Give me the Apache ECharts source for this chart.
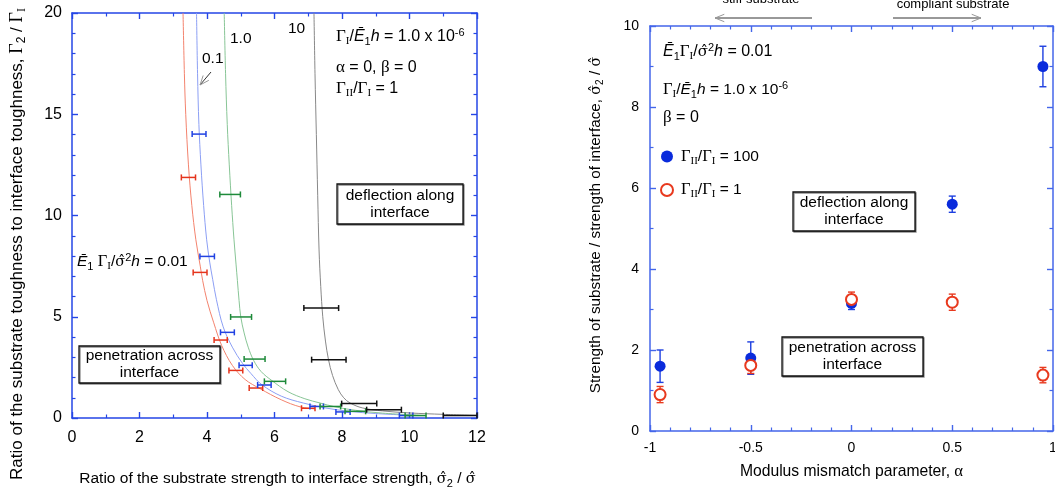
<!DOCTYPE html>
<html><head><meta charset="utf-8">
<script src="https://cdn.jsdelivr.net/npm/echarts@6/dist/echarts.min.js"></script>
<style>html,body{margin:0;padding:0;background:#fff}#c{width:1055px;height:495px}</style>
</head><body><div id="c"></div>
<script>
// ---------- LEFT PANEL DATA (x = sigma2/sigma, y = Gamma2/GammaI) ----------
const redCurve   = [[3.29,20],[3.33,17],[3.37,15],[3.45,12.5],[3.55,10.5],[3.67,8.8],[3.8,7.5],[3.87,6.8],[4.0,5.8],[4.2,4.7],[4.43,3.6],[4.75,2.6],[5.13,1.9],[5.57,1.45],[6.2,0.9],[6.76,0.55],[7.2,0.45]];
const blueCurve  = [[3.69,20],[3.72,17],[3.76,14.5],[3.82,12.5],[3.9,10.5],[3.99,8.8],[4.08,7.7],[4.17,6.83],[4.28,5.84],[4.48,4.5],[4.75,3.5],[5.05,2.7],[5.3,2.2],[5.62,1.65],[6.2,1.08],[6.85,0.74],[7.5,0.5],[8.2,0.33],[9.0,0.22],[10.1,0.13]];
const greenCurve = [[4.51,20],[4.55,17],[4.6,14.5],[4.66,12.5],[4.73,10.5],[4.8,8.8],[4.86,7.6],[4.9,6.8],[4.95,5.8],[5.0,5.0],[5.1,4.2],[5.22,3.5],[5.38,2.85],[5.6,2.3],[5.92,1.85],[6.4,1.3],[6.9,0.95],[7.35,0.74],[7.8,0.55],[8.4,0.38],[9.2,0.24],[10.5,0.12]];
const blackCurve = [[7.17,20],[7.2,17],[7.24,14],[7.28,11],[7.32,8.3],[7.37,6.5],[7.43,5.0],[7.51,3.8],[7.6,2.88],[7.72,2.1],[7.89,1.4],[8.05,1.0],[8.24,0.74],[8.6,0.5],[9.2,0.35],[10,0.25],[11,0.18],[12,0.13]];
// horizontal error bars: [xLow, xHigh, y]
const redBars   = [[3.24,3.66,11.88],[3.59,4.0,7.19],[4.21,4.6,3.85],[4.65,5.06,2.35],[5.25,5.65,1.48],[6.8,7.2,0.48]];
const blueBars  = [[3.56,3.97,14.02],[3.79,4.22,7.98],[4.4,4.81,4.23],[4.95,5.34,2.6],[5.5,5.9,1.63],[7.05,7.45,0.57],[7.82,8.24,0.3],[9.7,10.1,0.12]];
const greenBars = [[4.38,4.99,11.04],[4.7,5.32,4.99],[5.1,5.72,2.91],[5.7,6.33,1.81],[7.35,7.96,0.57],[8.09,8.7,0.33],[9.87,10.49,0.12]];
const blackBars = [[6.87,7.9,5.43],[7.1,8.12,2.88],[7.99,9.03,0.71],[8.73,9.76,0.41],[11.0,12.0,0.12]];

// ---------- RIGHT PANEL DATA (x = alpha, y = sigma2/sigma) ----------
const alphaVals = [-0.95, -0.5, 0, 0.5, 0.95];
const g100Vals  = [1.6, 1.8, 3.15, 5.6, 9.0];
const g100Err   = [0.4, 0.4, 0.15, 0.2, 0.5];
const g1Vals    = [0.9, 1.62, 3.25, 3.18, 1.38];
const g1Err     = [0.2, 0.2, 0.18, 0.2, 0.19];

const FONT = 'Liberation Sans, Arial, Helvetica, sans-serif';
const SERIF = 'Liberation Serif, Times New Roman, serif';
const HATF = 'DejaVu Serif, serif';
const BL = '#2446e6', BR = '#4466ea';

function rich(fs) {
  const s = Math.round(fs * 0.68), off = Math.round(fs * 0.55);
  return {
    g:    {fontFamily: SERIF, fontSize: fs + 1, fill: '#000', color: '#000'},
    h:    {fontFamily: HATF, fontSize: fs - 1, fill: '#000', color: '#000'},
    i:    {fontFamily: FONT, fontStyle: 'italic', fontSize: fs, fill: '#000', color: '#000'},
    sub:  {fontFamily: SERIF, fontSize: s, fill: '#000', color: '#000', padding: [off, 0, 0, 0]},
    subn: {fontFamily: FONT, fontSize: s, fill: '#000', color: '#000', padding: [off, 0, 0, 0]},
    sup:  {fontFamily: FONT, fontSize: s, fill: '#000', color: '#000', padding: [0, 0, off, 0]}
  };
}
function txt(x, y, text, fs, align, extra) {
  return Object.assign({
    type: 'text', x: x, y: y, z: 100,
    style: {text: text, rich: rich(fs), fontFamily: FONT, fontSize: fs, fill: '#000',
      align: align || 'left', textAlign: align || 'left', verticalAlign: 'middle', textVerticalAlign: 'middle', lineHeight: Math.round(fs * 1.1)}
  }, extra || {});
}
function box(x, y, w, h) {
  return {type: 'rect', z: 90, shape: {x: x, y: y, width: w, height: h},
    style: {fill: '#fff', stroke: '#111', lineWidth: 1.3, shadowColor: 'rgba(0,0,0,0.45)', shadowOffsetX: 1, shadowOffsetY: 1, shadowBlur: 0}};
}
function arrow(x1, y1, x2, y2) {
  const a = Math.atan2(y2 - y1, x2 - x1), L = 10, w = 0.38;
  return [
    {type: 'line', z: 95, shape: {x1: x1, y1: y1, x2: x2, y2: y2}, style: {stroke: '#333', lineWidth: 1}},
    {type: 'polyline', z: 95, shape: {points: [[x2 - L * Math.cos(a - w), y2 - L * Math.sin(a - w)], [x2, y2], [x2 - L * Math.cos(a + w), y2 - L * Math.sin(a + w)]]}, style: {stroke: '#999', lineWidth: 1, fill: null}}
  ];
}

function hBars(data, color) {
  return {
    type: 'custom', xAxisIndex: 0, yAxisIndex: 0, data: data, z: 5, silent: true,
    encode: {x: [0, 1], y: 2},
    renderItem: function (params, api) {
      const p1 = api.coord([api.value(0), api.value(2)]);
      const p2 = api.coord([api.value(1), api.value(2)]);
      const c = 3, st = {stroke: color, lineWidth: 1.5};
      return {type: 'group', children: [
        {type: 'line', shape: {x1: p1[0], y1: p1[1], x2: p2[0], y2: p2[1]}, style: st},
        {type: 'line', shape: {x1: p1[0], y1: p1[1] - c, x2: p1[0], y2: p1[1] + c}, style: st},
        {type: 'line', shape: {x1: p2[0], y1: p2[1] - c, x2: p2[0], y2: p2[1] + c}, style: st}
      ]};
    }
  };
}
function vBars(xs, ys, es, color) {
  return {
    type: 'custom', xAxisIndex: 2, yAxisIndex: 2, z: 5, silent: true,
    data: xs.map((x, k) => [x, ys[k] - es[k], ys[k] + es[k]]),
    encode: {x: 0, y: [1, 2]},
    renderItem: function (params, api) {
      const p1 = api.coord([api.value(0), api.value(1)]);
      const p2 = api.coord([api.value(0), api.value(2)]);
      const c = 3.5, st = {stroke: color, lineWidth: 1.4};
      return {type: 'group', children: [
        {type: 'line', shape: {x1: p1[0], y1: p1[1], x2: p2[0], y2: p2[1]}, style: st},
        {type: 'line', shape: {x1: p1[0] - c, y1: p1[1], x2: p1[0] + c, y2: p1[1]}, style: st},
        {type: 'line', shape: {x1: p2[0] - c, y1: p2[1], x2: p2[0] + c, y2: p2[1]}, style: st}
      ]};
    }
  };
}
function curve(data, color) {
  return {type: 'line', xAxisIndex: 0, yAxisIndex: 0, data: data, showSymbol: false, smooth: 0.35, silent: true,
    lineStyle: {color: color, width: 1}, z: 2};
}
function axis(o) {
  const color = o.color;
  return Object.assign({
    type: 'value', splitLine: {show: false}, minorSplitLine: {show: false},
    axisLine: {show: true, onZero: false, lineStyle: {color: color, width: 1.5}},
    axisTick: {show: true, inside: true, length: 6, lineStyle: {color: color, width: 1.4}},
    minorTick: {show: true, splitNumber: o.split, length: 3.5, lineStyle: {color: color, width: 1.2}},
    axisLabel: {show: o.label, color: '#000', fontFamily: FONT, fontSize: o.fs, margin: o.margin}
  }, o.extra);
}

const option = {
  animation: false,
  backgroundColor: '#fff',
  grid: [
    {left: 72, top: 13, width: 405, height: 405, outerBoundsMode: 'none', containLabel: false},
    {left: 650, top: 26, width: 403, height: 405, outerBoundsMode: 'none', containLabel: false}
  ],
  xAxis: [
    axis({color: BL, split: 2, label: true, fs: 16, margin: 12, extra: {gridIndex: 0, min: 0, max: 12, interval: 2, position: 'bottom'}}),
    axis({color: BL, split: 2, label: false, fs: 16, margin: 12, extra: {gridIndex: 0, min: 0, max: 12, interval: 2, position: 'top'}}),
    axis({color: BR, split: 5, label: true, fs: 14, margin: 10, extra: {gridIndex: 1, min: -1, max: 1, interval: 0.5, position: 'bottom'}}),
    axis({color: BR, split: 5, label: false, fs: 14, margin: 10, extra: {gridIndex: 1, min: -1, max: 1, interval: 0.5, position: 'top'}})
  ],
  yAxis: [
    axis({color: BL, split: 5, label: true, fs: 16, margin: 10, extra: {gridIndex: 0, min: 0, max: 20, interval: 5, position: 'left'}}),
    axis({color: BL, split: 5, label: false, fs: 16, margin: 10, extra: {gridIndex: 0, min: 0, max: 20, interval: 5, position: 'right'}}),
    axis({color: BR, split: 2, label: true, fs: 14, margin: 11, extra: {gridIndex: 1, min: 0, max: 10, interval: 2, position: 'left'}}),
    axis({color: BR, split: 2, label: false, fs: 14, margin: 11, extra: {gridIndex: 1, min: 0, max: 10, interval: 2, position: 'right'}})
  ],
  legend: {
    orient: 'vertical', left: 660, top: 148, padding: 0, itemGap: 15, itemWidth: 12, itemHeight: 12,
    data: ['g100', 'g1'],
    formatter: function (n) { return n === 'g100' ? '{g|Γ}{sub|II}/{g|Γ}{sub|I} = 100' : '{g|Γ}{sub|II}/{g|Γ}{sub|I} = 1'; },
    textStyle: {fontFamily: FONT, fontSize: 15.5, color: '#000', padding: [0, 0, 0, 3], rich: rich(15.5)}
  },
  series: [
    curve(redCurve, '#f3836e'),
    curve(blueCurve, '#8c9ff4'),
    curve(greenCurve, '#88c596'),
    curve(blackCurve, '#888888'),
    hBars(redBars, '#e5341c'),
    hBars(blueBars, '#2142e2'),
    hBars(greenBars, '#1e8a3a'),
    hBars(blackBars, '#111111'),
    vBars(alphaVals, g100Vals, g100Err, '#1d3fe0'),
    {name: 'g100', type: 'scatter', xAxisIndex: 2, yAxisIndex: 2, symbol: 'circle', symbolSize: 11, z: 6,
      itemStyle: {color: '#0a2bdc', opacity: 1}, data: alphaVals.map((x, k) => [x, g100Vals[k]])},
    vBars(alphaVals, g1Vals, g1Err, '#e8391e'),
    {name: 'g1', type: 'scatter', xAxisIndex: 2, yAxisIndex: 2, symbol: 'emptyCircle', symbolSize: 11, z: 7,
      itemStyle: {color: '#e8391e', borderColor: '#e8391e', borderWidth: 1.2, opacity: 1}, data: alphaVals.map((x, k) => [x, g1Vals[k]])}
  ],
  graphic: [].concat(
    [
      // left panel annotations
      txt(336, 37, '{g|Γ}{sub|I}/{i|Ē}{subn|1}{i|h} = 1.0 x 10{sup|-6}', 16),
      txt(336, 68, '{g|α} = 0, {g|β} = 0', 16),
      txt(336, 89, '{g|Γ}{sub|II}/{g|Γ}{sub|I} = 1', 16),
      txt(77, 262, '{i|Ē}{subn|1} {g|Γ}{sub|I}/{h|σ\u0302}{sup|2}{i|h} = 0.01', 15.5),
      txt(202, 59, '0.1', 15.5),
      txt(230, 39, '1.0', 15.5),
      txt(288, 29, '10', 15.5),
      box(337, 184, 126, 40), txt(400, 204, 'deflection along\ninterface', 15.5, 'center'),
      box(79, 346, 141, 37), txt(149.5, 364.5, 'penetration across\ninterface', 15.5, 'center'),
      // axis titles left
      txt(17, 244, 'Ratio of the substrate toughness to interface toughness, {g|Γ}{subn|2} / {g|Γ}{sub|I}', 17, 'center', {rotation: Math.PI / 2}),
      txt(277.5, 479, 'Ratio of the substrate strength to interface strength, {h|σ\u0302}{subn|2} / {h|σ\u0302}', 15.5, 'center'),
      // right panel annotations
      txt(663, 52, '{i|Ē}{subn|1}{g|Γ}{sub|I}/{h|σ\u0302}{sup|2}{i|h} = 0.01', 16),
      txt(663, 90, '{g|Γ}{sub|I}/{i|Ē}{subn|1}{i|h} = 1.0 x 10{sup|-6}', 15.5),
      txt(663, 118, '{g|β} = 0', 16),
      box(793, 192, 122, 39), txt(854, 211.5, 'deflection along\ninterface', 15.5, 'center'),
      box(782, 337, 141, 39), txt(852.5, 356.5, 'penetration across\ninterface', 15.5, 'center'),
      txt(761, -1, 'stiff substrate', 13, 'center'),
      txt(953, 4, 'compliant substrate', 13, 'center'),
      txt(596, 225, 'Strength of substrate / strength of interface, {h|σ\u0302}{subn|2} / {h|σ\u0302}', 15.3, 'center', {rotation: Math.PI / 2}),
      txt(851.5, 472, 'Modulus mismatch parameter, {g|α}', 15.7, 'center')
    ],
    arrow(211, 72, 200, 85),
    arrow(812, 18, 715, 18),
    arrow(893, 18, 981, 18)
  )
};
const chart = echarts.init(document.getElementById('c'), null, {renderer: 'canvas'});
chart.setOption(option);
</script>
</body></html>
